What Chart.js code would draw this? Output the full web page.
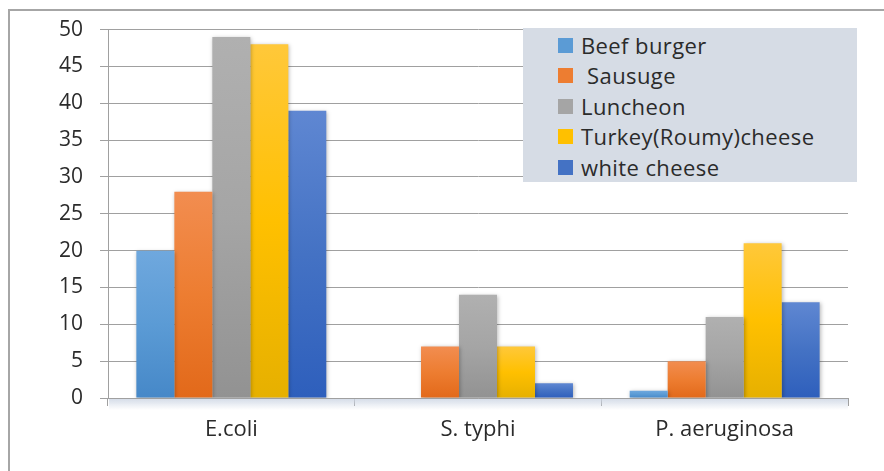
<!DOCTYPE html>
<html>
<head>
<meta charset="utf-8">
<script src="https://cdn.jsdelivr.net/npm/chart.js@4.4.1/dist/chart.umd.min.js"></script>
<style>
  html, body { margin: 0; padding: 0; background: #ffffff; }
  #wrap { position: relative; width: 884px; height: 471px; overflow: hidden; background: #fff; }
  #frame { position: absolute; left: 8px; top: 9px; width: 1000px; height: 1000px;
           border-left: 2px solid #a6a6a6; border-top: 2px solid #a6a6a6; box-sizing: border-box; }
  #chartBox { position: absolute; left: 0; top: 0; width: 884px; height: 471px; }
  #legend { position: absolute; left: 523px; top: 28px; width: 334px; height: 154px;
            background: #d6dce5; box-sizing: border-box; padding-top: 2px; }
  .item { position: absolute; left: 35px; height: 30px; display: flex; align-items: center;
          font-family: "Open Sans", sans-serif; font-size: 22px; letter-spacing: 0.4px;
          color: #2b2b2b; white-space: pre; }
  .sw { width: 15px; height: 15px; margin-right: 8px; flex: none; }
</style>
</head>
<body>
<div id="wrap">
  <div id="frame"></div>
  <div id="chartBox"><canvas id="c"></canvas></div>
  <div id="legend"></div>
</div>
<script>
// ---- data ----
const categories = ['E.coli', 'S. typhi', 'P. aeruginosa'];
const seriesLabels = ['Beef burger', ' Sausuge', 'Luncheon', 'Turkey(Roumy)cheese', 'white cheese'];
const beefBurger   = [20, 0, 1];
const sausuge      = [28, 7, 5];
const luncheon     = [49, 14, 11];
const turkeyCheese = [48, 7, 21];
const whiteCheese  = [39, 2, 13];
const yTickValues  = [0, 5, 10, 15, 20, 25, 30, 35, 40, 45, 50];

// ---- styles ----
const seriesColors = ['#5B9BD5', '#ED7D31', '#A5A5A5', '#FFC000', '#4472C4'];
const gradStops = [
  ['#6fa8de', '#5b9bd5', '#4688c8'],
  ['#f28d50', '#ed7d31', '#e2691a'],
  ['#b0b0b0', '#a5a5a5', '#929292'],
  ['#ffc83a', '#ffc000', '#e6b000'],
  ['#5f87d2', '#4472c4', '#2e5fbc']
];

function barFill(stops) {
  return function (ctx) {
    const chart = ctx.chart;
    if (!chart.chartArea || ctx.type !== 'data' || !ctx.parsed) return stops[1];
    const ys = chart.scales.y;
    const top = ys.getPixelForValue(ctx.parsed.y);
    const bottom = ys.getPixelForValue(0);
    if (!isFinite(top) || Math.abs(bottom - top) < 1) return stops[1];
    const g = chart.ctx.createLinearGradient(0, top, 0, bottom);
    g.addColorStop(0, stops[0]);
    g.addColorStop(0.5, stops[1]);
    g.addColorStop(1, stops[2]);
    return g;
  };
}

const seriesData = [beefBurger, sausuge, luncheon, turkeyCheese, whiteCheese];
const datasets = seriesData.map((d, i) => ({
  label: seriesLabels[i],
  data: d,
  backgroundColor: barFill(gradStops[i]),
  borderWidth: 0,
  categoryPercentage: 0.77,
  barPercentage: 1.0
}));

const gridColor = '#a0a0a0';

const effects = {
  id: 'effects',
  beforeDatasetsDraw(chart) {
    const { ctx, chartArea } = chart;
    ctx.save();
    const g = ctx.createLinearGradient(0, chartArea.bottom, 0, chartArea.bottom + 12);
    g.addColorStop(0, 'rgba(205,214,228,0.9)');
    g.addColorStop(1, 'rgba(205,214,228,0)');
    ctx.fillStyle = g;
    ctx.fillRect(chartArea.left + 1, chartArea.bottom + 1, chartArea.right - chartArea.left - 1, 12);
    ctx.restore();
    ctx.save();
    ctx.shadowColor = 'rgba(0,0,0,0.28)';
    ctx.shadowBlur = 4;
    ctx.shadowOffsetX = 1;
    ctx.shadowOffsetY = 1;
  },
  afterDatasetsDraw(chart) {
    chart.ctx.restore();
  }
};

new Chart(document.getElementById('c'), {
  type: 'bar',
  data: { labels: categories, datasets },
  plugins: [effects],
  options: {
    responsive: true,
    maintainAspectRatio: false,
    animation: false,
    layout: { padding: { left: 0, right: 36, top: 27, bottom: 0 } },
    plugins: { legend: { display: false }, tooltip: { enabled: false } },
    scales: {
      x: {
        offset: true,
        grid: { display: true, drawOnChartArea: false, drawTicks: true, tickLength: 8, color: gridColor, offset: true },
        border: { display: true, color: gridColor, width: 1 },
        ticks: { font: { family: 'Open Sans', size: 22 }, color: '#2b2b2b', padding: 11 },
        afterFit(scale) { scale.height = 73; }
      },
      y: {
        min: 0, max: 50,
        afterBuildTicks(scale) { scale.ticks = yTickValues.map(v => ({ value: v })); },
        grid: { color: gridColor, tickLength: 8, lineWidth: 1 },
        border: { display: true, color: gridColor, width: 1 },
        ticks: { font: { family: 'Open Sans', size: 21 }, color: '#2b2b2b', padding: 17 },
        afterFit(scale) { scale.width = 108; }
      }
    }
  }
});

// ---- HTML legend ----
const legend = document.getElementById('legend');
const rowTops = [0, 30, 61, 91, 122];
seriesLabels.forEach((lab, i) => {
  const it = document.createElement('div');
  it.className = 'item';
  it.style.top = (rowTops[i] + 2) + 'px';
  const sw = document.createElement('span');
  sw.className = 'sw';
  sw.style.background = seriesColors[i];
  const tx = document.createElement('span');
  tx.textContent = lab;
  it.appendChild(sw);
  it.appendChild(tx);
  legend.appendChild(it);
});
</script>
</body>
</html>
